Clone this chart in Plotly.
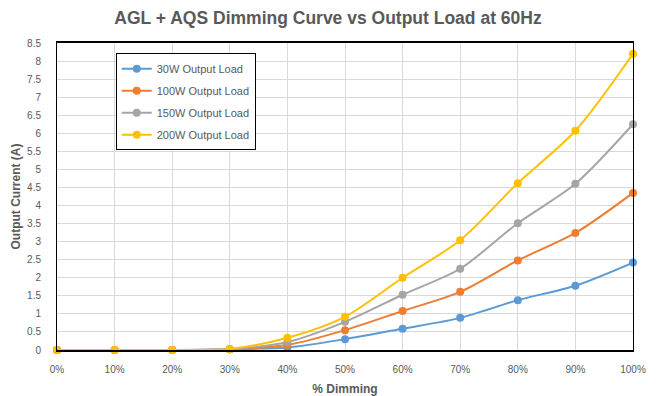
import plotly.graph_objects as go

# Dimming level (%) on the x axis
dimming = [0, 10, 20, 30, 40, 50, 60, 70, 80, 90, 100]
tick_labels = [f"{d}%" for d in dimming]

# Output current (A) per load
load_30w = [0, 0, 0, 0.02, 0.07, 0.30, 0.59, 0.89, 1.38, 1.78, 2.42]
load_100w = [0, 0, 0, 0.02, 0.14, 0.55, 1.08, 1.61, 2.48, 3.24, 4.35]
load_150w = [0, 0, 0, 0.02, 0.22, 0.78, 1.53, 2.25, 3.51, 4.60, 6.25]
load_200w = [0, 0, 0, 0.03, 0.34, 0.92, 2.00, 3.04, 4.62, 6.07, 8.20]

series = [
    ("30W Output Load", load_30w, "#5b9bd5"),
    ("100W Output Load", load_100w, "#ed7d31"),
    ("150W Output Load", load_150w, "#a5a5a5"),
    ("200W Output Load", load_200w, "#ffc000"),
]

FONT = "Liberation Sans, Arial, sans-serif"
TXT = "#595959"

fig = go.Figure()
for name, vals, color in series:
    fig.add_trace(go.Scatter(
        x=dimming, y=vals, name=name, legendgroup=name, mode="lines+markers",
        line=dict(color=color, width=2, shape="spline", smoothing=0.8),
        marker=dict(color=color, size=8),
        cliponaxis=False,
    ))

fig.update_layout(
    width=656, height=396,
    margin=dict(l=57, r=23, t=43, b=46),
    paper_bgcolor="white", plot_bgcolor="white",
    font=dict(family=FONT, color=TXT, size=10),
    title=dict(
        text="<b>AGL + AQS Dimming Curve vs Output Load at 60Hz</b>",
        x=0.5, xanchor="center", y=0.955, yanchor="middle",
        font=dict(size=17.5, color=TXT, family=FONT),
    ),
    legend=dict(
        x=0.102, y=0.967, xanchor="left", yanchor="top",
        bordercolor="black", borderwidth=1, bgcolor="white",
        traceorder="grouped", tracegroupgap=3, itemwidth=30,
        font=dict(size=11, color=TXT, family=FONT),
    ),
    xaxis=dict(
        range=[0, 100], tickvals=dimming, ticktext=tick_labels,
        showgrid=True, gridcolor="#d9d9d9", gridwidth=1,
        showline=True, linecolor="black", linewidth=2, mirror=True,
        ticks="", ticklabelstandoff=9, zeroline=False, automargin=False,
        title=dict(text="<b>% Dimming</b>", font=dict(size=12, color=TXT), standoff=12),
    ),
    yaxis=dict(
        range=[0, 8.5], dtick=0.5, tick0=0,
        showgrid=True, gridcolor="#d9d9d9", gridwidth=1,
        showline=True, linecolor="black", linewidth=1, mirror=True,
        ticks="", ticklabelstandoff=13, zeroline=False, automargin=False,
        title=dict(text="<b>Output Current (A)</b>", font=dict(size=12, color=TXT), standoff=3),
    ),
)

fig.write_html("out.html")
